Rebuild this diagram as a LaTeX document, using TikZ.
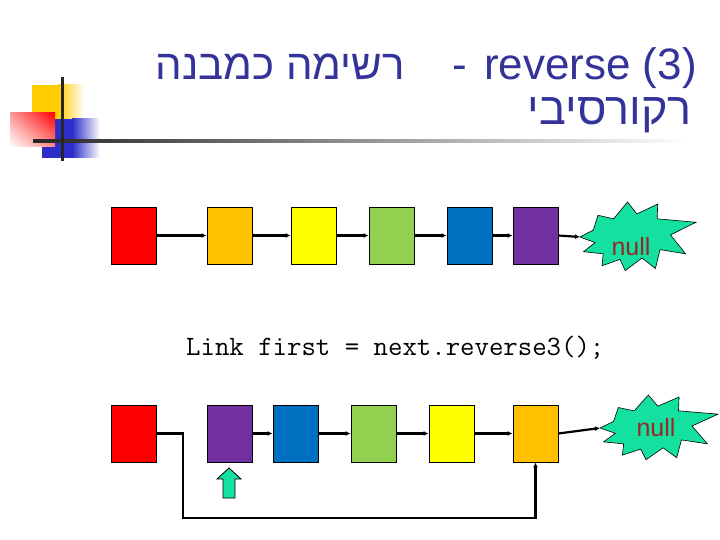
\documentclass[tikz,border=0pt]{standalone}
\usepackage{fontspec}
\setmainfont{Liberation Sans}
\newfontfamily\hebfont[Script=Hebrew]{Liberation Sans}
\TeXXeTstate=1
\usetikzlibrary{arrows.meta,shadings}
\definecolor{navy}{RGB}{51,51,153}
\definecolor{mint}{RGB}{20,225,160}
\definecolor{nulltext}{RGB}{150,40,40}
\definecolor{cRed}{RGB}{255,0,0}
\definecolor{cOrange}{RGB}{255,192,0}
\definecolor{cYellow}{RGB}{255,255,0}
\definecolor{cGreen}{RGB}{146,208,80}
\definecolor{cBlue}{RGB}{0,112,192}
\definecolor{cPurple}{RGB}{112,48,160}
\definecolor{logoyellow}{RGB}{255,204,0}
\definecolor{logoblue}{RGB}{45,45,200}
\tikzset{
  cell/.style={draw=black, line width=0.9bp, minimum width=45bp, minimum height=57bp, inner sep=0pt},
  link/.style={draw=black, line width=2.2bp, -{Latex[length=5bp,width=5bp]}},
  titletext/.style={inner sep=0pt, text=navy, font=\fontsize{44bp}{52bp}\selectfont},
  nulllabel/.style={inner sep=0pt, text=nulltext, font=\fontsize{25bp}{28bp}\selectfont},
  burst/.style={fill=mint, draw=black, line width=0.6bp, line join=miter}
}
\newcommand{\burstpath}{(0,0.5) -- (0.115,0.40) -- (0.155,0.19) -- (0.29,0.24) -- (0.41,0) -- (0.49,0.17) -- (0.67,0.03) -- (0.665,0.24) -- (1.0,0.29) -- (0.78,0.47) -- (0.91,0.74) -- (0.69,0.68) -- (0.65,0.95) -- (0.535,0.80) -- (0.39,0.98) -- (0.345,0.82) -- (0.19,0.91) -- (0.20,0.74) -- (0.03,0.71) -- (0.13,0.58) -- cycle}
\begin{document}
\begin{tikzpicture}[x=1bp,y=-1bp]
\useasboundingbox (0,0) rectangle (720,540);
\fill[white] (0,0) rectangle (720,540);

% logo
\fill[logoyellow] (32,85) rectangle (58,120);
\shade[left color=logoyellow, right color=white] (58,85) rectangle (84,120);
\fill[logoblue] (42,119) rectangle (72,158);
\shade[left color=logoblue, right color=white] (72,119) rectangle (100,158);
\shade[upper right=cRed, upper left=cRed!40!white, lower right=cRed!45!white, lower left=white] (10,113) rectangle (55,147);
\shade[left color=black!85, middle color=black!40, right color=white] (33,139.5) rectangle (690,142.5);
\draw[line width=3bp, black!85] (62,77) -- (62,161);

% title
\node[titletext, anchor=base east] (t1) at (697,80) {reverse (3)};
\node[titletext, anchor=base] (t2) at (460,80) {-};
\node[titletext, anchor=base east, font=\fontsize{42bp}{50bp}\selectfont] (t3) at (405,80) {\hebfont\beginR רשימה כמבנה\endR};
\node[titletext, anchor=base east, font=\fontsize{45bp}{52bp}\selectfont] (t4) at (692,125) {\hebfont\beginR רקורסיבי\endR};

% top list
\node[cell, fill=cRed] (a1) at (133.5,235.5) {};
\node[cell, fill=cOrange] (a2) at (229.5,235.5) {};
\node[cell, fill=cYellow] (a3) at (313.5,235.5) {};
\node[cell, fill=cGreen] (a4) at (391.5,235.5) {};
\node[cell, fill=cBlue] (a5) at (469.5,235.5) {};
\node[cell, fill=cPurple] (a6) at (535.5,235.5) {};
\begin{scope}[shift={(580,202)}, xscale=116, yscale=70]
  \path[burst] \burstpath;
  \coordinate (tipA) at (0,0.5);
\end{scope}
\node[nulllabel] (nullA) at (631,247) {null};
\draw[link] (a1.east) -- (a2.west);
\draw[link] (a2.east) -- (a3.west);
\draw[link] (a3.east) -- (a4.west);
\draw[link] (a4.east) -- (a5.west);
\draw[link] (a5.east) -- (a6.west);
\draw[link] (a6.east) -- (tipA);

% code line
\node[inner sep=0pt, anchor=base west, font=\ttfamily\fontsize{28bp}{32bp}\selectfont] (code) at (186,355) {Link first = next.reverse3();};

% bottom list
\node[cell, fill=cRed] (b1) at (133.5,433.5) {};
\node[cell, fill=cPurple] (b2) at (229.5,433.5) {};
\node[cell, fill=cBlue] (b3) at (295.5,433.5) {};
\node[cell, fill=cGreen] (b4) at (373.5,433.5) {};
\node[cell, fill=cYellow] (b5) at (451.5,433.5) {};
\node[cell, fill=cOrange] (b6) at (535.5,433.5) {};
\begin{scope}[shift={(600,395)}, xscale=118, yscale=66]
  \path[burst] \burstpath;
  \coordinate (tipB) at (0,0.5);
\end{scope}
\node[nulllabel] (nullB) at (656,428) {null};
\draw[link] (b2.east) -- (b3.west);
\draw[link] (b3.east) -- (b4.west);
\draw[link] (b4.east) -- (b5.west);
\draw[link] (b5.east) -- (b6.west);
\draw[link] (b6.east) -- (tipB);
\coordinate (loopA) at (183,518);
\draw[link] (b1.east) -| (loopA) -| (b6.south);

% pointer arrow
\draw[fill=mint, draw=black, line width=0.8bp] (223,498) -- (235,498) -- (235,479) -- (241,479) -- (229,468) -- (217,479) -- (223,479) -- cycle;
\end{tikzpicture}
\end{document}
